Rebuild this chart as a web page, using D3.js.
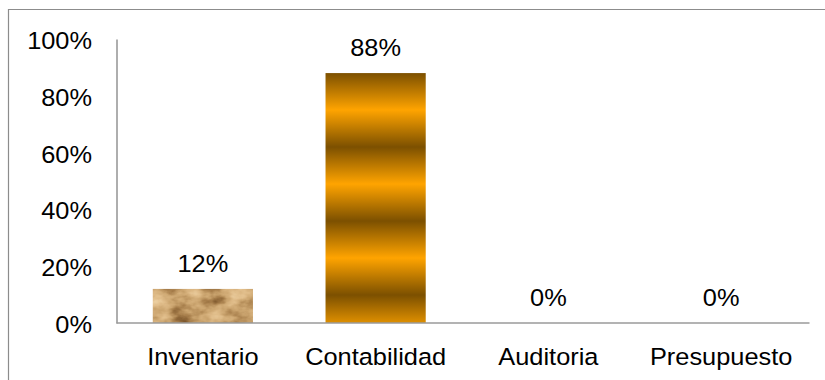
<!DOCTYPE html>
<html>
<head>
<meta charset="utf-8">
<script src="https://cdn.jsdelivr.net/npm/d3@7"></script>
<style>
  html, body { margin: 0; padding: 0; background: #fff; }
  svg { display: block; font-family: Arial, "Liberation Sans", sans-serif; }
</style>
</head>
<body>
<svg id="chart" width="825" height="380"></svg>
<script>
// Share of responses per area
const categories = ["Inventario", "Contabilidad", "Auditoria", "Presupuesto"];
const values = [0.12, 0.88, 0, 0];
const yTicks = [0, 0.2, 0.4, 0.6, 0.8, 1.0];

const W = 825, H = 380;
const margin = { left: 116.5, right: 17.5, top: 39, bottom: 57 };
const FONT = 23.5, SX = 1.08; // text is drawn slightly wide

const svg = d3.select("#chart");
const defs = svg.append("defs");

// outer frame (left and top edges visible)
svg.append("path")
  .attr("d", `M8.5,${H} V9.5 H${W}`)
  .attr("fill", "none").attr("stroke", "#8c8c8c").attr("stroke-width", 1.2);

const x = d3.scaleBand()
  .domain(categories)
  .range([margin.left, W - margin.right])
  .paddingInner(0.42).paddingOuter(0.21);

const y = d3.scaleLinear()
  .domain([0, 1])
  .range([H - margin.bottom, margin.top]);

// striped gold fill
const stripe = defs.append("linearGradient")
  .attr("id", "goldStripe").attr("x1", 0).attr("y1", 0).attr("x2", 0).attr("y2", 1);
[[0, "#7c5000"], [0.5, "#ffa400"], [1, "#7c5000"]].forEach(([o, c]) =>
  stripe.append("stop").attr("offset", o).attr("stop-color", c));
const period = 74;
defs.append("pattern")
  .attr("id", "goldPattern").attr("patternUnits", "userSpaceOnUse")
  .attr("x", 0).attr("y", y(0.88)).attr("width", 10).attr("height", period)
  .append("rect").attr("width", 10).attr("height", period).attr("fill", "url(#goldStripe)");

// parchment-like texture: monochrome noise mapped to tan tones
const f = defs.append("filter").attr("id", "parchment")
  .attr("x", 0).attr("y", 0).attr("width", 1).attr("height", 1)
  .attr("color-interpolation-filters", "sRGB");
f.append("feTurbulence").attr("type", "fractalNoise")
  .attr("baseFrequency", "0.035 0.06").attr("numOctaves", 4).attr("seed", 5).attr("result", "noise");
f.append("feColorMatrix").attr("in", "noise").attr("type", "matrix")
  .attr("values", "1 0 0 0 0  1 0 0 0 0  1 0 0 0 0  0 0 0 0 1")
  .attr("result", "mono");
f.append("feComponentTransfer").attr("in", "mono").attr("result", "lum")
  .call(s => {
    s.append("feFuncR").attr("type", "table").attr("tableValues", "0.40 0.50 0.66 0.80 0.88 0.93 0.96");
    s.append("feFuncG").attr("type", "table").attr("tableValues", "0.26 0.35 0.50 0.65 0.74 0.82 0.87");
    s.append("feFuncB").attr("type", "table").attr("tableValues", "0.12 0.18 0.30 0.44 0.54 0.64 0.72");
  });
f.append("feComposite").attr("in", "lum").attr("in2", "SourceGraphic").attr("operator", "in");

const fills = ["#c8a878", "url(#goldPattern)", "#c8a878", "#c8a878"];

svg.append("g").selectAll("rect")
  .data(categories)
  .join("rect")
  .attr("x", d => x(d))
  .attr("y", (d, i) => y(values[i]))
  .attr("width", x.bandwidth())
  .attr("height", (d, i) => y(0) - y(values[i]))
  .attr("fill", (d, i) => fills[i])
  .attr("filter", (d, i) => i === 0 ? "url(#parchment)" : null);

// axes
const yAxis = svg.append("g")
  .attr("transform", `translate(${margin.left},0)`)
  .call(d3.axisLeft(y).tickValues(yTicks).tickFormat(d3.format(".0%")).tickSize(0).tickPadding(0));
yAxis.select(".domain").attr("stroke", "#9a9a9a").attr("stroke-width", 1.6);
yAxis.selectAll("text")
  .attr("font-size", FONT).attr("font-family", "Arial, 'Liberation Sans', sans-serif")
  .attr("fill", "#000")
  .attr("x", -24.5 / SX).attr("dy", "0.4em")
  .attr("transform", `scale(${SX},1)`);

const xAxis = svg.append("g")
  .attr("transform", `translate(0,${y(0)})`)
  .call(d3.axisBottom(x).tickSize(0).tickPadding(0));
xAxis.select(".domain").attr("stroke", "#9a9a9a").attr("stroke-width", 1.6)
  .attr("d", `M${margin.left},0H${W - margin.right + 2}`);
xAxis.selectAll(".tick text")
  .attr("font-size", FONT).attr("font-family", "Arial, 'Liberation Sans', sans-serif")
  .attr("fill", "#000")
  .attr("y", 42).attr("dy", 0)
  .attr("transform", `scale(${SX},1)`);

// value labels
svg.append("g").selectAll("text")
  .data(categories)
  .join("text")
  .attr("transform", (d, i) =>
    `translate(${x(d) + x.bandwidth() / 2},${y(values[i]) - 17}) scale(${SX},1)`)
  .attr("text-anchor", "middle")
  .attr("font-size", FONT)
  .attr("fill", "#000")
  .text((d, i) => d3.format(".0%")(values[i]));
</script>
</body>
</html>
